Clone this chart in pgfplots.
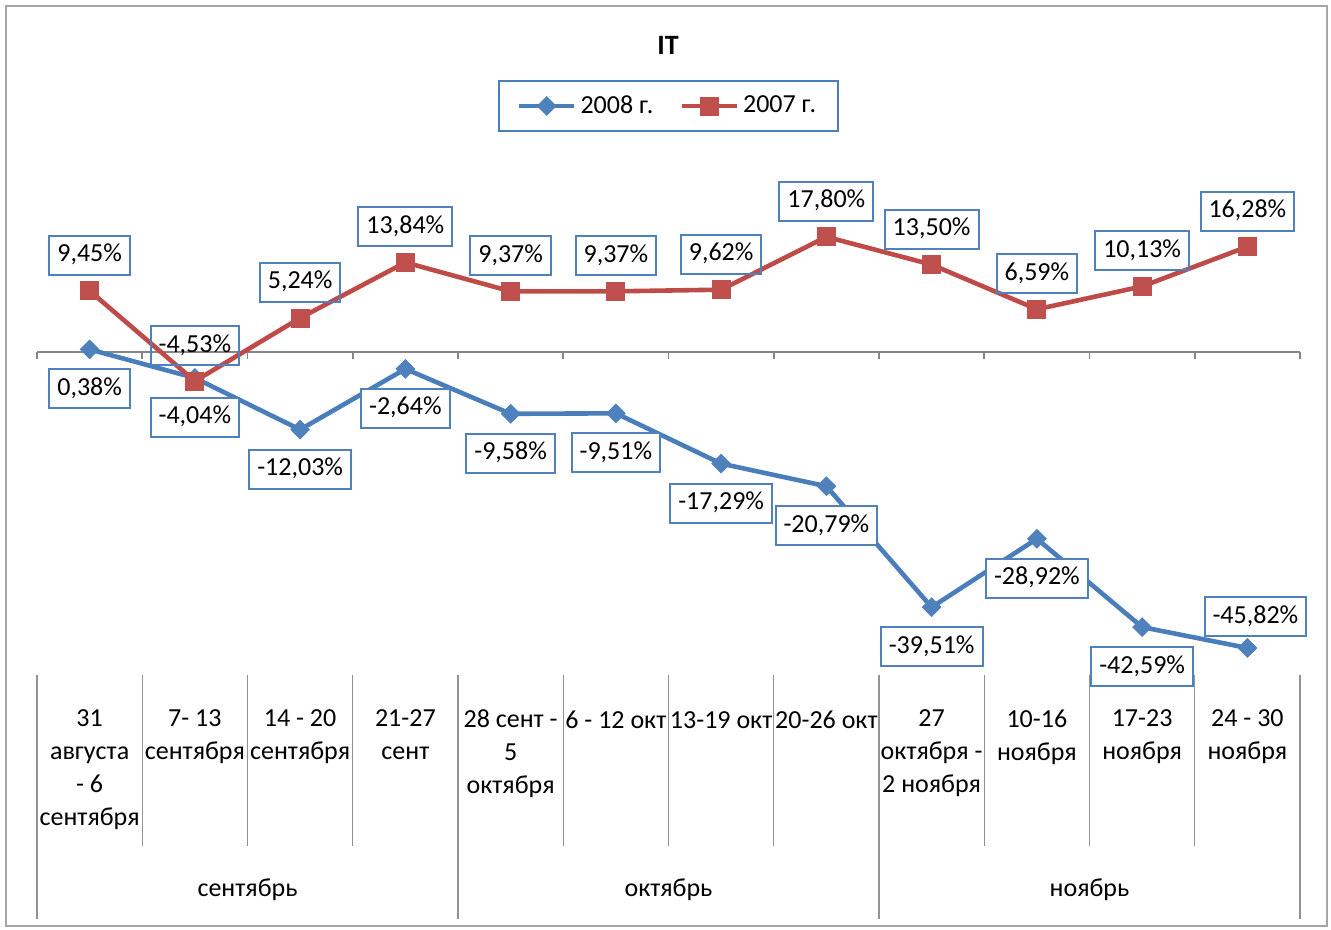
\documentclass[border=0pt]{standalone}
\usepackage{pgfplots}
\usepackage{pgfplotstable}
\pgfplotsset{compat=1.18}
\usepackage{fontspec}
\setmainfont{Carlito}
\definecolor{blueL}{HTML}{4A7EBB}
\definecolor{blueM}{HTML}{4F81BD}
\definecolor{redL}{HTML}{BE4B48}
\definecolor{redM}{HTML}{C0504D}
\definecolor{axgray}{HTML}{868686}
\definecolor{framegray}{HTML}{A6A6A6}

% x, value, label offsets (pt)
\pgfplotstableread{
x y dy dx
1 0.38 -19.75 0
2 -4.04 -19.75 0
3 -12.03 -19.75 0
4 -2.64 -19.75 0
5 -9.58 -19.75 0
6 -9.51 -19.75 0
7 -17.29 -19.75 0
8 -20.79 -19.75 0
9 -39.51 -19.75 0
10 -28.92 -19.75 0
11 -42.59 -19.75 0
12 -45.82 15.5 4
}\dataA
\pgfplotstableread{
x y dy dx
1 9.45 17.75 0
2 -4.53 17.75 0
3 5.24 17.75 0
4 13.84 17.75 0
5 9.37 17.75 0
6 9.37 17.75 0
7 9.62 17.75 0
8 17.80 17.75 0
9 13.50 17.75 0
10 6.59 17.75 0
11 10.13 17.75 0
12 16.28 17.75 0
}\dataB

\begin{document}
\begin{tikzpicture}
\useasboundingbox (0,0) rectangle (665.5pt,465pt);
\draw[framegray, line width=1.2pt] (3pt,2pt) rectangle (663.5pt,462pt);
\begin{axis}[
  at={(18.5pt,127.5pt)}, anchor=south west,
  scale only axis, width=631.5pt, height=258.5pt,
  xmin=0.5, xmax=12.5, ymin=-50, ymax=30,
  axis line style={draw=none}, tick style={draw=none},
  ytick=\empty,
  xtick={1,...,12},
  xticklabels={{31\\августа\\- 6\\сентября},{7- 13\\сентября},{14 - 20\\сентября},{21-27\\сент},{28 сент -\\5\\октября},{6 - 12 окт},{13-19 окт},{20-26 окт},{27\\октября -\\2 ноября},{10-16\\ноября},{17-23\\ноября},{24 - 30\\ноября}},
  xticklabel style={anchor=north, yshift=-17.25pt, align=center, font=\fontsize{13}{16.5}\selectfont, inner sep=0pt,
    execute at begin node={\rule{0pt}{9.5pt}}},
  clip=false,
  /pgf/number format/.cd, fixed, fixed zerofill, precision=2, use comma, assume math mode=true, /pgfplots/.cd,
  legend style={at={(0.5,1.1006)}, anchor=center, draw=blueL, line width=1pt, legend columns=2,
    font=\fontsize{13}{15}\selectfont, inner xsep=9pt, inner ysep=5.5pt,
    /tikz/every even column/.append style={column sep=11pt}},
  legend image code/.code={\draw[#1, mark repeat=2, mark phase=2] plot coordinates {(0pt,0pt) (13.75pt,0pt) (27.5pt,0pt)};},
]
% x axis line at zero with ticks
\draw[axgray, line width=0.8pt] (axis cs:0.5,0) -- (axis cs:12.5,0);
\pgfplotsinvokeforeach{0.5,1.5,...,12.5}{
  \draw[axgray, line width=0.8pt] (axis cs:#1,0) -- ([yshift=-3.5pt]axis cs:#1,0);
}
% category table lines
\pgfplotsinvokeforeach{1.5,2.5,3.5,5.5,6.5,7.5,9.5,10.5,11.5}{
  \draw[axgray!90, line width=0.6pt] (axis cs:#1,-50) -- ([yshift=-85.5pt]axis cs:#1,-50);
}
\pgfplotsinvokeforeach{0.5,4.5,8.5,12.5}{
  \draw[axgray!90, line width=0.6pt] (axis cs:#1,-50) -- ([yshift=-122pt]axis cs:#1,-50);
}
\node[anchor=base, font=\fontsize{13}{15}\selectfont] at ([yshift=-110.5pt]axis cs:2.5,-50) {сентябрь};
\node[anchor=base, font=\fontsize{13}{15}\selectfont] at ([yshift=-110.5pt]axis cs:6.5,-50) {октябрь};
\node[anchor=base, font=\fontsize{13}{15}\selectfont] at ([yshift=-110.5pt]axis cs:10.5,-50) {ноябрь};

\addplot[blueL, line width=2.3pt, mark=square*, mark size=3.3pt,
  mark options={rotate=45, fill=blueM, draw=blueM, line width=0.4pt},
  point meta=\thisrow{y},
  nodes near coords={\pgfmathprintnumber{\pgfplotspointmeta}\%},
  visualization depends on={\thisrow{dy}\as\dy},
  visualization depends on={\thisrow{dx}\as\dx},
  every node near coord/.append style={anchor=center, xshift=\dx pt, yshift=\dy pt,
    draw=blueM, fill=white, line width=1pt, text=black, inner xsep=4pt, inner ysep=3.75pt,
    text height=9.2pt, text depth=2.8pt, font=\fontsize{13}{15}\selectfont},
] table[x=x, y=y] {\dataA};
\addlegendentry{2008 г.}

\addplot[redL, line width=2.3pt, mark=square*, mark size=4.5pt,
  mark options={fill=redM, draw=redM, line width=0.4pt},
  point meta=\thisrow{y},
  nodes near coords={\pgfmathprintnumber{\pgfplotspointmeta}\%},
  visualization depends on={\thisrow{dy}\as\dy},
  visualization depends on={\thisrow{dx}\as\dx},
  every node near coord/.append style={anchor=center, xshift=\dx pt, yshift=\dy pt,
    draw=blueM, line width=1pt, text=black, inner xsep=4pt, inner ysep=3.75pt,
    text height=9.2pt, text depth=2.8pt, font=\fontsize{13}{15}\selectfont},
] table[x=x, y=y] {\dataB};
\addlegendentry{2007 г.}
\end{axis}
\node[font=\bfseries\fontsize{14}{16}\selectfont] at (334pt,442.5pt) {IT};
\end{tikzpicture}
\end{document}
